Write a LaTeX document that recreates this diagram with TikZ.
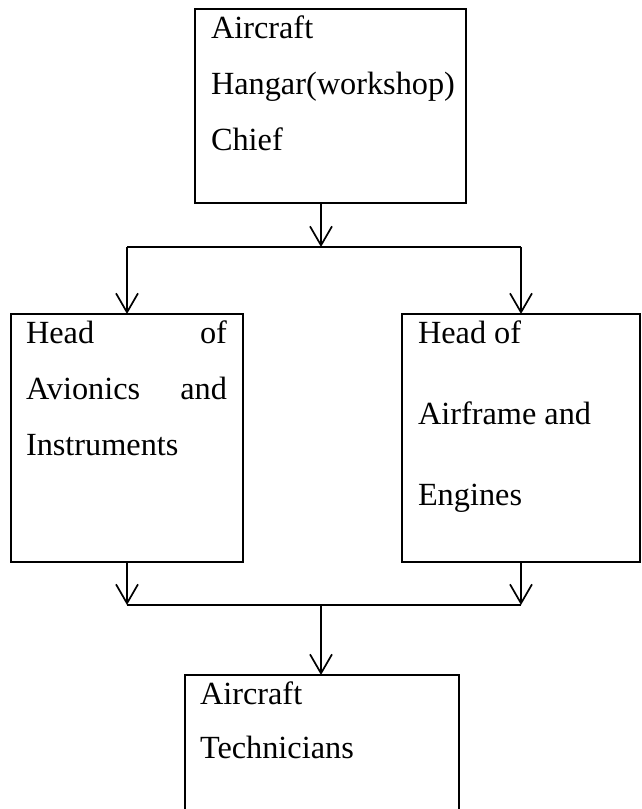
\documentclass[tikz,border=0pt]{standalone}
\usepackage{fontspec}
\setmainfont{Liberation Serif}
\usetikzlibrary{arrows.meta}
\tikzset{
  box/.style={draw, line width=2.3pt, anchor=north west, inner sep=0pt, outer sep=0pt},
  txt/.style={anchor=base west, inner sep=0pt, outer sep=0pt, font=\fontsize{32.3}{38}\selectfont},
  conn/.style={line width=1.7pt},
  arr/.style={conn, -{Straight Barb[length=19pt,width=22pt]}}
}
\begin{document}
\begin{tikzpicture}[x=1pt,y=-1pt]
\useasboundingbox (0,0) rectangle (642,809);
% boxes
\node[box, minimum width=271pt, minimum height=194pt] (top) at (195,9) {};
\node[box, minimum width=232pt, minimum height=248pt] (left) at (11,314) {};
\node[box, minimum width=238pt, minimum height=248pt] (right) at (402,314) {};
\node[box, minimum width=274pt, minimum height=150pt] (bot) at (185,675) {};
% texts
\node[txt] (t1) at (211,38) {Aircraft};
\node[txt] (t2) at (211,94) {Hangar(workshop)};
\node[txt] (t3) at (211,150) {Chief};
\node[txt] (l1) at (26,343) {\hbox to 201pt{Head\hfill of}};
\node[txt] (l2) at (26,399) {\hbox to 201pt{Avionics\hfill and}};
\node[txt] (l3) at (26,455) {Instruments};
\node[txt] (r1) at (418,343) {Head of};
\node[txt] (r2) at (418,424) {Airframe and};
\node[txt] (r3) at (418,505) {Engines};
\node[txt] (b1) at (200,704) {Aircraft};
\node[txt] (b2) at (200,758) {Technicians};
% connectors
\coordinate (split) at (321,247);
\coordinate (merge) at (321,605);
\draw[arr] (top.south -| split) -- (split);
\draw[conn] (left.north |- split) -- (right.north |- split);
\draw[arr] (left.north |- split) -- (left.north);
\draw[arr] (right.north |- split) -- (right.north);
\draw[arr] (left.south) -- (left.south |- merge);
\draw[arr] (right.south) -- (right.south |- merge);
\draw[conn] (left.south |- merge) -- (right.south |- merge);
\draw[arr] (merge) -- (bot.north -| merge);
\end{tikzpicture}
\end{document}
